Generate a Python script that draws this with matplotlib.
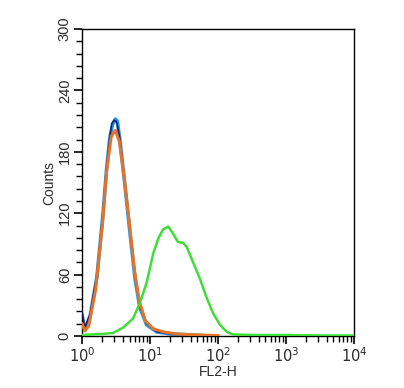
import matplotlib
matplotlib.use("Agg")
import matplotlib.pyplot as plt
import numpy as np
from matplotlib.ticker import LogLocator, MultipleLocator, NullFormatter

plt.rcParams['font.family'] = ['Liberation Sans', 'DejaVu Sans']

# FL2-H values and counts
iso_x = [1.0, 1.1, 1.32, 1.66, 2.04, 2.29, 2.57, 2.75, 3.0, 3.24, 3.63, 4.27, 5.13,
         6.03, 7.08, 8.91, 12.6, 20.0, 40.0, 80.0]
iso_y = [25, 8, 22, 61, 123, 165, 195, 208, 211, 209, 192, 150, 100, 58, 29, 12, 4, 2, 1, 0]

blank_x = [1.0, 1.1, 1.32, 1.66, 2.04, 2.29, 2.57, 2.82, 3.09, 3.31, 3.63, 4.27, 5.13,
           6.03, 7.08, 8.91, 12.6, 20.0, 40.0, 80.0]
blank_y = [20, 6, 20, 58, 120, 162, 194, 207, 212, 210, 190, 148, 98, 56, 28, 11, 4, 2, 1, 0]

ctrl_x = [1.0, 1.1, 1.26, 1.58, 2.0, 2.29, 2.69, 3.09, 3.55, 4.17, 5.01, 5.89, 6.92,
          8.51, 11.2, 15.8, 25.1, 50.1, 100.0]
ctrl_y = [12, 5, 10, 45, 110, 160, 195, 201, 190, 155, 108, 65, 35, 15, 7, 4, 2, 1, 0.5]

ab_x = [1.0, 2.0, 2.88, 3.98, 5.62, 7.08, 8.91, 11.2, 13.2, 15.5, 18.6, 21.9, 25.7, 30.9,
        34.7, 43.7, 55.0, 67.6, 85.1, 107, 135, 166, 316, 1000, 3162, 10000]
ab_y = [1, 2, 3, 8, 17, 32, 52, 81, 95, 104, 107, 100, 92, 91, 87, 71, 55, 38, 22, 11,
        4, 1.5, 1, 1, 0.5, 0.5]

fig = plt.figure(figsize=(4.04, 3.88), dpi=100)
ax = fig.add_axes([0.203, 0.134, 0.673, 0.791])

ax.plot(blank_x, blank_y, color='#2b95dc', lw=2.6, zorder=2)
ax.plot(iso_x, iso_y, color='#1c1a66', lw=1.1, zorder=3)
ax.plot(ctrl_x, ctrl_y, color='#e2742e', lw=2.2, zorder=4)
ax.plot(ab_x, ab_y, color='#3fdc3a', lw=1.8, zorder=5)

ax.set_xscale('log')
ax.set_xlim(1, 10000)
ax.set_ylim(0, 300)

ax.set_xticks([1, 10, 100, 1000, 10000])
ax.set_xticklabels([r'$10^0$', r'$10^1$', r'$10^2$', r'$10^3$', r'$10^4$'])
ax.xaxis.set_minor_locator(LogLocator(base=10, subs=np.arange(2, 10)))
ax.xaxis.set_minor_formatter(NullFormatter())

ax.set_yticks([0, 60, 120, 180, 240, 300])
ax.yaxis.set_minor_locator(MultipleLocator(12))
for lab in ax.get_yticklabels():
    lab.set_rotation(90)
    lab.set_va('center')

ax.tick_params(axis='both', which='major', direction='out', length=5.8, width=1.2,
               labelsize=10.5, colors='black', labelcolor='#2a2a2a')
ax.tick_params(axis='both', which='minor', direction='out', length=4.3, width=1.0)
ax.tick_params(axis='x', pad=1.5)
ax.tick_params(axis='y', pad=1.5)

for s in ax.spines.values():
    s.set_linewidth(1.0)

ax.set_xlabel('FL2-H', fontsize=10, color='#2a2a2a', labelpad=0)
ax.set_ylabel('Counts', fontsize=10, color='#2a2a2a', labelpad=1)

fig.savefig('out.png', dpi=100)
